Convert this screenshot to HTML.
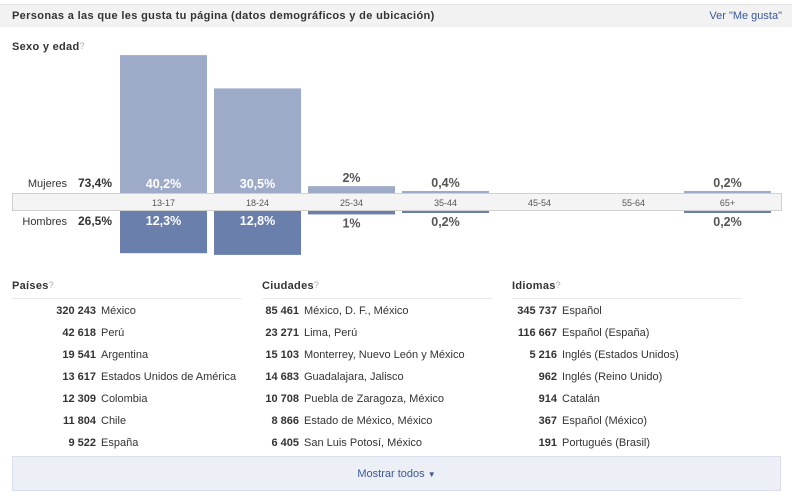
<!DOCTYPE html>
<html><head><meta charset="utf-8">
<style>
body{margin:0;width:792px;height:503px;background:#fff;font-family:"Liberation Sans",Tahoma,sans-serif;font-size:11px;color:#333;position:relative;overflow:hidden}
.hdr{position:absolute;left:0;top:4px;width:792px;height:23px;background:#f2f2f2;border-top:1px solid #e2e2e2;box-sizing:border-box}
.hdr .t{position:absolute;left:12px;top:5px;font-weight:bold;color:#333;font-size:11px;letter-spacing:0.35px}
.hdr .l{position:absolute;right:10px;top:5px;color:#3b5998}
.sec{position:absolute;font-weight:bold;font-size:11px;color:#333;letter-spacing:0.3px}
.q{color:#aaa;font-weight:normal;font-size:9px;vertical-align:top}
.col{position:absolute;top:280px;width:230px}
.col h3{margin:0;font-size:11px;font-weight:bold;padding-bottom:5px;border-bottom:1px solid #e9e9e9;height:13px;letter-spacing:0.3px}
.row{height:22px;line-height:22px;white-space:nowrap}
.row b{display:inline-block;text-align:right;color:#333}
.row span{margin-left:5px}
.more{position:absolute;left:12px;top:456px;width:769px;height:35px;box-sizing:border-box;background:#eceff5;border:1px solid #d8dfea;text-align:center;line-height:35px;color:#3b5998}
</style></head><body>
<div class="hdr"><span class="t">Personas a las que les gusta tu página (datos demográficos y de ubicación)</span><span class="l">Ver "Me gusta"</span></div>
<div class="sec" style="left:12px;top:41px">Sexo y edad<span class="q">?</span></div>
<svg id="chart" style="position:absolute;left:0;top:0" width="792" height="270"></svg>
<script>
const ages=["13-17","18-24","25-34","35-44","45-54","55-64","65+"];
const women=[40.2,30.5,2,0.4,0,0,0.2];
const men=[12.3,12.8,1,0.2,0,0,0.2];
const womenLabels=["40,2%","30,5%","2%","0,4%","","","0,2%"];
const menLabels=["12,3%","12,8%","1%","0,2%","","","0,2%"];
const womenTotal="73,4%", menTotal="26,5%";
const svg=document.getElementById('chart');
const NS="http://www.w3.org/2000/svg";
function mk(t,a,txt){const e=document.createElementNS(NS,t);for(const k in a)e.setAttribute(k,a[k]);if(txt!==undefined)e.textContent=txt;svg.appendChild(e);return e;}
const axisTop=193, axisBot=211, scale=3.43;
const colX=i=>120+i*94, colW=87;
const h=v=>v<=0?0:Math.max(2,v*scale);
let band=mk('rect',{x:12.5,y:axisTop+0.5,width:769,height:axisBot-axisTop-1,fill:'#f4f4f4',stroke:'#d0d0d0'});


let t=mk('text',{x:67,y:187,'text-anchor':'end','font-size':11,fill:'#333','font-family':'Liberation Sans'},'Mujeres');

t=mk('text',{x:112,y:187,'text-anchor':'end','font-size':12,'font-weight':'bold',fill:'#333','font-family':'Liberation Sans'},womenTotal);

t=mk('text',{x:67,y:225,'text-anchor':'end','font-size':11,fill:'#333','font-family':'Liberation Sans'},'Hombres');

t=mk('text',{x:112,y:225,'text-anchor':'end','font-size':12,'font-weight':'bold',fill:'#333','font-family':'Liberation Sans'},menTotal);

ages.forEach((a,i)=>{
  const x=colX(i), cx=x+colW/2;
  let tk=mk('text',{x:cx,y:206,'text-anchor':'middle','font-size':9,fill:'#555','font-family':'Liberation Sans'},a);
  
  const hw=h(women[i]);
  if(hw>0){
    const r=mk('rect',{x:x,y:axisTop-hw,width:colW,height:hw,fill:'#9dabc9'});
    
  }
  if(womenLabels[i]){
    const inside=hw>20;
    const l=mk('text',{x:cx,y:inside?axisTop-5:axisTop-hw-4,'text-anchor':'middle','font-size':12.5,'font-weight':'bold',fill:inside?'#fff':'#555','font-family':'Liberation Sans'},womenLabels[i]);
    
  }
  const hm=h(men[i]);
  if(hm>0){
    const r=mk('rect',{x:x,y:axisBot,width:colW,height:hm,fill:'#6b7fad'});
    
  }
  if(menLabels[i]){
    const inside=hm>20;
    const l=mk('text',{x:cx,y:inside?axisBot+14:axisBot+hm+13,'text-anchor':'middle','font-size':12.5,'font-weight':'bold',fill:inside?'#fff':'#555','font-family':'Liberation Sans'},menLabels[i]);
    
  }
});
</script>
<div class="col" style="left:12px">
<h3>Países<span class="q">?</span></h3>
<div style="margin-top:1px">
<div class="row"><b style="width:84px">320 243</b><span>México</span></div>
<div class="row"><b style="width:84px">42 618</b><span>Perú</span></div>
<div class="row"><b style="width:84px">19 541</b><span>Argentina</span></div>
<div class="row"><b style="width:84px">13 617</b><span>Estados Unidos de América</span></div>
<div class="row"><b style="width:84px">12 309</b><span>Colombia</span></div>
<div class="row"><b style="width:84px">11 804</b><span>Chile</span></div>
<div class="row"><b style="width:84px">9 522</b><span>España</span></div>
</div></div>
<div class="col" style="left:262px">
<h3>Ciudades<span class="q">?</span></h3>
<div style="margin-top:1px">
<div class="row"><b style="width:37px">85 461</b><span>México, D. F., México</span></div>
<div class="row"><b style="width:37px">23 271</b><span>Lima, Perú</span></div>
<div class="row"><b style="width:37px">15 103</b><span>Monterrey, Nuevo León y México</span></div>
<div class="row"><b style="width:37px">14 683</b><span>Guadalajara, Jalisco</span></div>
<div class="row"><b style="width:37px">10 708</b><span>Puebla de Zaragoza, México</span></div>
<div class="row"><b style="width:37px">8 866</b><span>Estado de México, México</span></div>
<div class="row"><b style="width:37px">6 405</b><span>San Luis Potosí, México</span></div>
</div></div>
<div class="col" style="left:512px">
<h3>Idiomas<span class="q">?</span></h3>
<div style="margin-top:1px">
<div class="row"><b style="width:45px">345 737</b><span>Español</span></div>
<div class="row"><b style="width:45px">116 667</b><span>Español (España)</span></div>
<div class="row"><b style="width:45px">5 216</b><span>Inglés (Estados Unidos)</span></div>
<div class="row"><b style="width:45px">962</b><span>Inglés (Reino Unido)</span></div>
<div class="row"><b style="width:45px">914</b><span>Catalán</span></div>
<div class="row"><b style="width:45px">367</b><span>Español (México)</span></div>
<div class="row"><b style="width:45px">191</b><span>Portugués (Brasil)</span></div>
</div></div>
<div class="more">Mostrar todos <span style="font-size:8px">&#9660;</span></div>
</body></html>
